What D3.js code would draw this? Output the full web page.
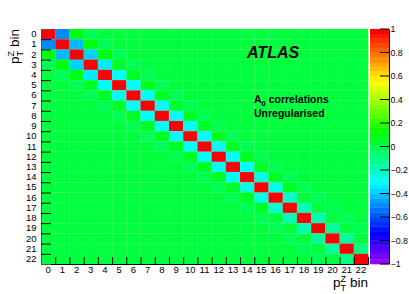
<!DOCTYPE html>
<html>
<head>
<meta charset="utf-8">
<script src="https://cdn.jsdelivr.net/npm/d3@7"></script>
<style>
body { margin: 0; background: #fff; }
svg { display: block; font-family: "Liberation Sans", Arial, Helvetica, sans-serif; }
</style>
</head>
<body>
<svg id="chart" width="409" height="294"></svg>
<script>
// pT^Z bins 0..22
const binLabels = ["0","1","2","3","4","5","6","7","8","9","10","11","12","13","14","15","16","17","18","19","20","21","22"];
// correlation of bin i with bin i+1, i+2, i+3 (matrix is symmetric, diagonal = 1)
const diagValue = 1.0;
const band1 = [-0.50, -0.42, -0.38, -0.34, -0.30, -0.30, -0.30, -0.30, -0.30, -0.30, -0.30,
               -0.29, -0.30, -0.29, -0.26, -0.26, -0.22, -0.20, -0.18, -0.14, -0.14, -0.10];
const band2 = [0.10, 0.10, 0.09, 0.07, 0.06, 0.06, 0.06, 0.06, 0.06, 0.06, 0.06,
               0.05, 0.05, 0.05, 0.05, 0.05, 0.03, 0.03, 0.02, 0.02, 0.02];
const band3 = [-0.02, -0.02, -0.02, -0.02, -0.01, -0.01, -0.01, -0.01, -0.01, -0.01,
               -0.01, -0.01, -0.01, -0.02, -0.02, -0.02, -0.01, -0.01, -0.01, -0.01];
const paletteTicks = [-1, -0.8, -0.6, -0.4, -0.2, 0, 0.2, 0.4, 0.6, 0.8, 1];

const svg = d3.select('#chart');
const m = {left: 41, right: 368, top: 29, bottom: 264};
const palX0 = 370, palX1 = 389;

// build the matrix cells from the bands
let cells = [];
binLabels.forEach((a, i) => {
    binLabels.forEach((b, j) => {
        let d = Math.abs(i - j), k = Math.min(i, j);
        let v = 0;
        if (d == 0) v = diagValue;
        else if (d == 1) v = band1[k];
        else if (d == 2) v = band2[k];
        else if (d == 3) v = band3[k];
        cells.push({row: a, col: b, v: v});
    });
});

// ROOT "pretty" palette: 50 hues from violet to red
const nCol = 50;
function zColor(v) {
    let bin = Math.floor((v + 1) / 2 * nCol + 1e-6);
    bin = Math.max(0, Math.min(nCol - 1, bin));
    return d3.hsl(280 - (bin + 1) * (280 / nCol), 1, 0.5).toString();
}

const x = d3.scaleBand().domain(binLabels).range([m.left, m.right]);
const y = d3.scaleBand().domain(binLabels).range([m.top, m.bottom]);
const xi = d3.scaleLinear().domain([0, binLabels.length]).range([m.left, m.right]);
const yi = d3.scaleLinear().domain([0, binLabels.length]).range([m.top, m.bottom]);
const z = d3.scaleLinear().domain([-1, 1]).range([m.bottom, m.top]);

svg.append('g').selectAll('rect').data(cells).enter().append('rect')
    .attr('x', d => x(d.col))
    .attr('y', d => y(d.row))
    .attr('width', x.bandwidth() + 0.3)
    .attr('height', y.bandwidth() + 0.3)
    .attr('fill', d => zColor(d.v));

// faint seams between cells
const seams = svg.append('g').attr('stroke', '#fff').attr('stroke-opacity', 0.08);
d3.range(1, binLabels.length).forEach(k => {
    seams.append('line').attr('x1', xi(k)).attr('x2', xi(k)).attr('y1', m.top).attr('y2', m.bottom);
    seams.append('line').attr('y1', yi(k)).attr('y2', yi(k)).attr('x1', m.left).attr('x2', m.right);
});

// x axis: ticks on bin edges, labels at bin centres
svg.append('g').attr('transform', 'translate(0,' + m.bottom + ')')
    .call(d3.axisBottom(xi).tickValues(d3.range(1, binLabels.length)).tickSize(-7).tickFormat(''))
    .call(g => g.select('.domain').attr('stroke', '#000'));
svg.append('g').attr('transform', 'translate(0,' + m.bottom + ')')
    .call(d3.axisBottom(x).tickSize(0).tickPadding(2.5))
    .call(g => g.select('.domain').remove())
    .selectAll('text').attr('font-size', 9.5).attr('font-family', null).attr('fill', '#000');

// y axis
svg.append('g').attr('transform', 'translate(' + m.left + ',0)')
    .call(d3.axisLeft(yi).tickValues(d3.range(1, binLabels.length)).tickSize(-10).tickFormat(''))
    .call(g => g.select('.domain').attr('stroke', '#555'));
svg.append('g').attr('transform', 'translate(' + m.left + ',0)')
    .call(d3.axisLeft(y).tickSize(0).tickPadding(4.5))
    .call(g => g.select('.domain').remove())
    .selectAll('text').attr('font-size', 9.5).attr('font-family', null).attr('fill', '#000');

// palette
const pal = svg.append('g');
d3.range(nCol).forEach(k => {
    let v0 = -1 + k * 2 / nCol, v1 = v0 + 2 / nCol;
    pal.append('rect').attr('x', palX0).attr('width', palX1 - palX0)
        .attr('y', z(v1)).attr('height', z(v0) - z(v1) + 0.3)
        .attr('fill', zColor((v0 + v1) / 2));
});
svg.append('g').attr('transform', 'translate(' + palX1 + ',0)')
    .call(d3.axisRight(z).tickValues(paletteTicks).tickSize(0).tickPadding(1.5)
        .tickFormat(d => d3.format('')(+d.toFixed(1))))
    .call(g => g.select('.domain').attr('stroke', '#000'))
    .selectAll('text').attr('font-size', 8.8).attr('font-family', null).attr('fill', '#000');
svg.append('g').selectAll('line').data(paletteTicks).enter().append('line')
    .attr('x1', palX1 - 9).attr('x2', palX1)
    .attr('y1', d => z(d)).attr('y2', d => z(d))
    .attr('stroke', '#000');

// axis titles: p_T^Z bin
function ptTitle(g, fs) {
    let p = g.append('text').attr('font-size', fs).text('p');
    let sup = g.append('text').attr('font-size', fs * 0.68).attr('dy', -fs * 0.38).text('Z');
    let sub = g.append('text').attr('font-size', fs * 0.68).attr('dy', fs * 0.3).text('T');
    let bin = g.append('text').attr('font-size', fs).text('bin');
    let pw = p.node().getComputedTextLength();
    let sw = Math.max(sup.node().getComputedTextLength(), sub.node().getComputedTextLength());
    let bw = bin.node().getComputedTextLength();
    let total = pw + sw + fs * 0.28 + bw;
    p.attr('x', -total);
    sup.attr('x', -total + pw);
    sub.attr('x', -total + pw);
    bin.attr('x', -bw);
}
ptTitle(svg.append('g').attr('transform', 'translate(' + m.right + ',287)'), 13.5);
ptTitle(svg.append('g').attr('transform', 'translate(19,' + m.top + ') rotate(-90)'), 13.5);

// labels
svg.append('text').attr('x', 247).attr('y', 58)
    .attr('font-size', 16).attr('font-weight', 'bold').attr('font-style', 'italic')
    .text('ATLAS');
let t1 = svg.append('text').attr('x', 254).attr('y', 103)
    .attr('font-size', 10.5).attr('font-weight', 'bold');
t1.append('tspan').text('A');
t1.append('tspan').attr('font-size', 7.5).attr('dy', 2.5).text('0');
t1.append('tspan').attr('dy', -2.5).text(' correlations');
svg.append('text').attr('x', 254).attr('y', 117)
    .attr('font-size', 10.5).attr('font-weight', 'bold')
    .text('Unregularised');
</script>
</body>
</html>
